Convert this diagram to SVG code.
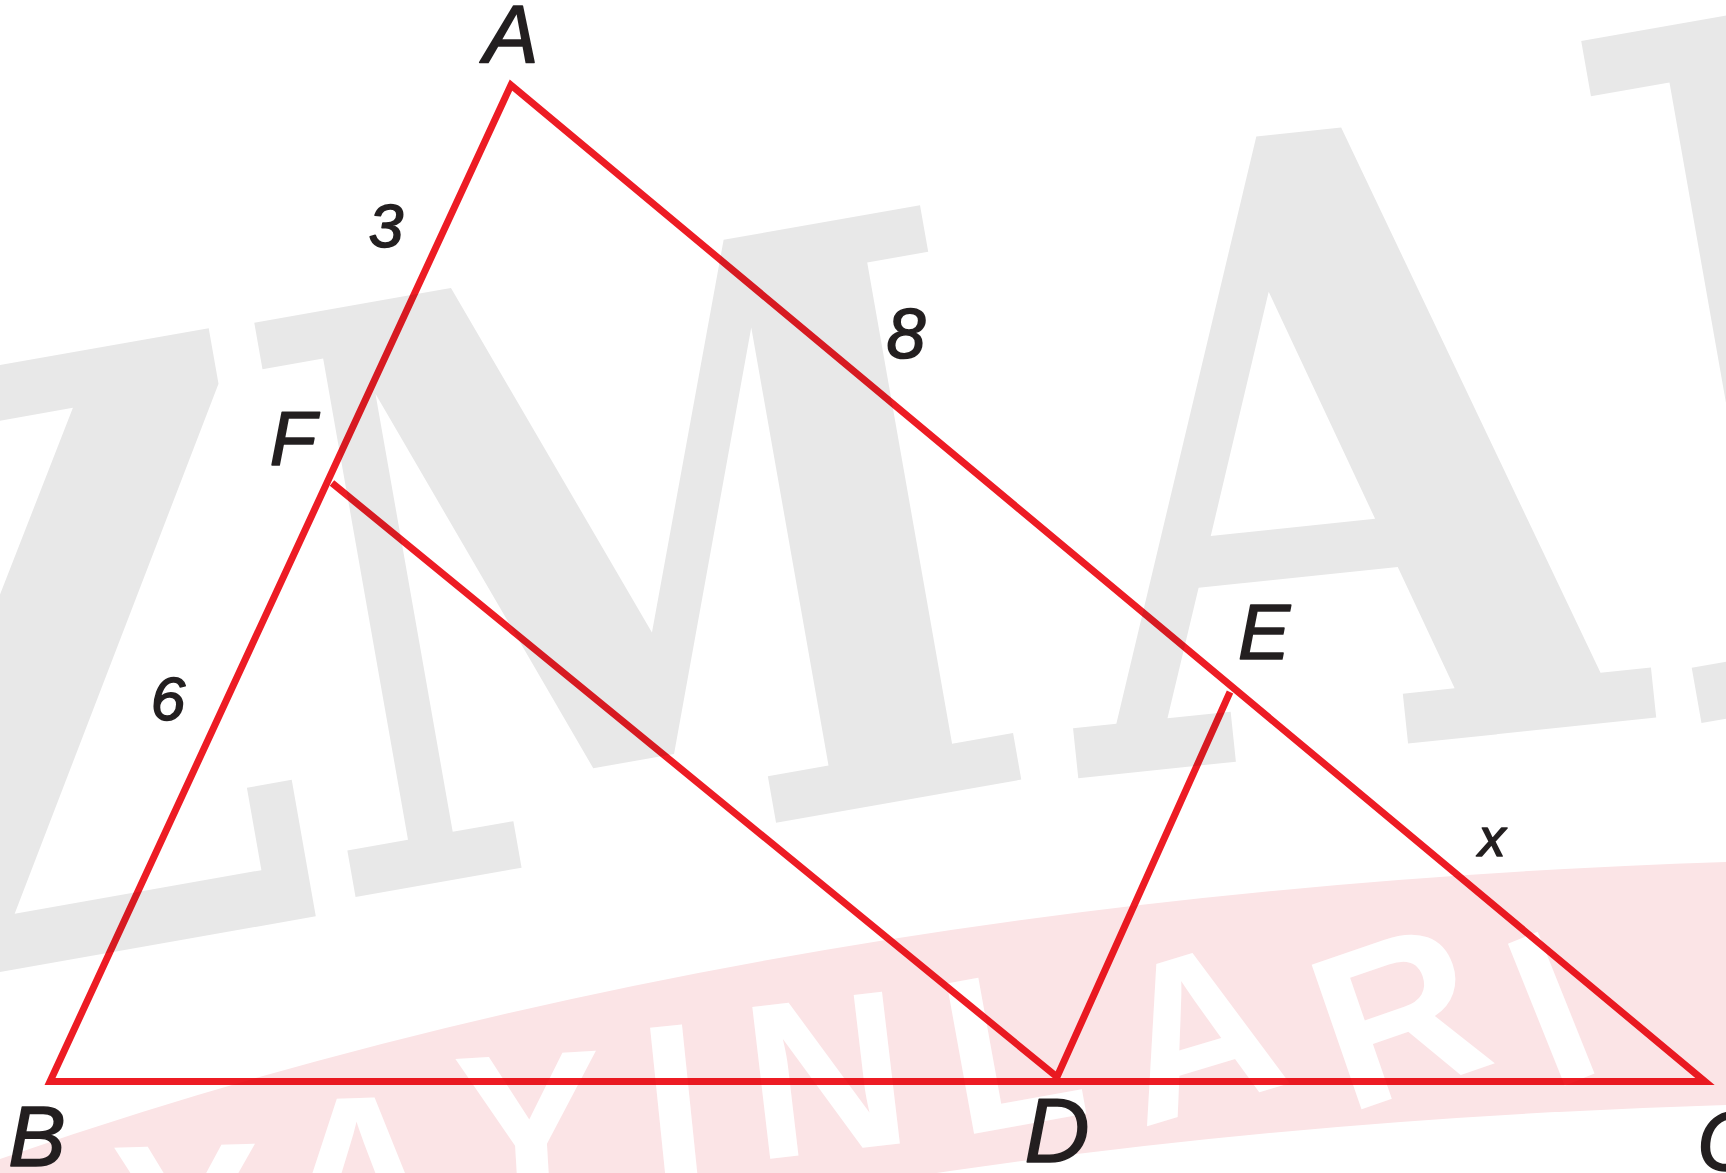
<svg xmlns="http://www.w3.org/2000/svg" width="1726" height="1173" viewBox="0 0 1726 1173">
<style>
.wm{fill:#e8e8e8;font-family:"DejaVu Serif",serif;font-weight:bold;text-anchor:middle}
.band{fill:#fbe4e6}
.bt{fill:#ffffff;font-family:"Liberation Sans",sans-serif;font-weight:bold;font-size:222px}
.edge{fill:none;stroke:#ed1c24;stroke-width:7;stroke-linejoin:miter}
.lbl{fill:#231f20;stroke:#231f20;stroke-width:1.6;stroke-linejoin:round;font-family:"Liberation Sans",sans-serif;font-style:italic;text-anchor:middle}
#watermark{mix-blend-mode:multiply}
</style>
<defs>
<path id="bandline" d="M0,1363 Q760,1098 1726,1066" fill="none"/>
</defs>
<rect width="1726" height="1173" fill="#ffffff"/>
<g id="connectors">
<polygon class="edge" points="511,85 50,1081.5 1705,1081.5"/>
<polyline class="edge" points="332,483 1057,1077 1230,692"/>
</g>
<g id="watermark">
<text class="wm" font-size="820" style="text-anchor:end" transform="translate(340,912) rotate(-10) scale(0.83,1)">Z</text>
<text class="wm" font-size="800" transform="translate(690,838) rotate(-10) scale(0.83,1)">M</text>
<text class="wm" font-size="850" transform="translate(1366,748) rotate(-6) scale(0.86,1)">A</text>
<text class="wm" font-size="950" style="text-anchor:start" transform="translate(1662,730) rotate(-10) scale(0.9,1)">I</text>
<path class="band" d="M0,1159 Q760,894 1726,862 L1726,1105 Q760,1134 0,1399 Z"/>
<text class="bt" letter-spacing="45" rotate="15 12.6 9 5 2.6 -2.8 -11 -15 -19"><textPath href="#bandline" startOffset="125">YAYINLARI</textPath></text>
</g>
<g id="point-A"><text class="lbl" x="511" y="62" font-size="82">A</text></g>
<g id="point-B"><text class="lbl" x="37" y="1166" font-size="86">B</text></g>
<g id="point-C"><text class="lbl" x="1697" y="1170" font-size="84" style="text-anchor:start">C</text></g>
<g id="point-D"><text class="lbl" x="1057" y="1162" font-size="90">D</text></g>
<g id="point-E"><text class="lbl" x="1264" y="659" font-size="78">E</text></g>
<g id="point-F"><text class="lbl" x="293" y="465" font-size="76">F</text></g>
<g id="label-AF"><text class="lbl" x="386" y="247" font-size="62">3</text></g>
<g id="label-FB"><text class="lbl" x="168" y="720" font-size="62">6</text></g>
<g id="label-AE"><text class="lbl" x="906" y="358" font-size="70">8</text></g>
<g id="label-EC"><text class="lbl" x="1492" y="856" font-size="54">x</text></g>
</svg>
